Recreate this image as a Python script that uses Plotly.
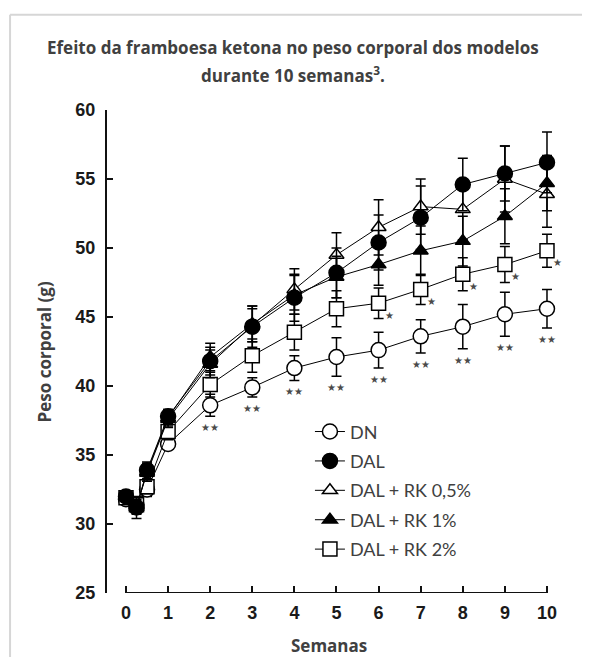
import plotly.graph_objects as go

weeks = [0, 0.25, 0.5, 1, 2, 3, 4, 5, 6, 7, 8, 9, 10]
x_ticks = [0, 1, 2, 3, 4, 5, 6, 7, 8, 9, 10]
y_ticks = [25, 30, 35, 40, 45, 50, 55, 60]

dn = [31.8, 31.4, 32.5, 35.8, 38.6, 39.9, 41.3, 42.1, 42.6, 43.6, 44.3, 45.2, 45.6]
dn_err = [0.3, 0.4, 0.5, 0.4, 0.8, 0.7, 0.9, 1.4, 1.3, 1.2, 1.6, 1.6, 1.4]
dal = [32.0, 31.2, 33.9, 37.8, 41.8, 44.3, 46.4, 48.2, 50.4, 52.2, 54.6, 55.4, 56.2]
dal_err = [0.4, 0.8, 0.6, 0.5, 1.0, 1.5, 1.7, 1.8, 2.0, 2.3, 1.9, 2.0, 2.2]
rk05 = [32.0, 31.3, 33.7, 37.6, 41.6, 44.4, 47.0, 49.5, 51.5, 53.0, 52.8, 55.0, 53.9]
rk05_err = [0.4, 0.5, 0.6, 0.6, 1.0, 1.2, 1.5, 1.6, 2.0, 2.0, 2.2, 2.4, 2.4]
rk1 = [32.0, 31.2, 33.8, 37.7, 42.1, 44.5, 46.6, 47.9, 48.8, 49.8, 50.5, 52.3, 54.7]
rk1_err = [0.4, 0.5, 0.6, 0.6, 1.0, 1.3, 1.4, 1.5, 1.5, 1.8, 1.8, 2.0, 2.0]
rk2 = [31.9, 31.4, 32.7, 36.7, 40.1, 42.2, 43.9, 45.6, 46.0, 47.0, 48.1, 48.8, 49.8]
rk2_err = [0.3, 0.4, 0.5, 0.6, 0.9, 1.2, 1.3, 1.3, 1.1, 1.1, 1.2, 1.3, 1.2]

# significance marks: indices into weeks
dn_sig_idx = [4, 5, 6, 7, 8, 9, 10, 11, 12]
rk2_sig_idx = [8, 9, 10, 11, 12]

names = ["DN", "DAL", "DAL + RK 0,5%", "DAL + RK 1%", "DAL + RK 2%"]

series = [
    (names[0], dn, dn_err, "circle", "white", 15),
    (names[4], rk2, rk2_err, "square", "white", 14),
    (names[2], rk05, rk05_err, "triangle-up", "white", 13),
    (names[3], rk1, rk1_err, "triangle-up", "black", 13),
    (names[1], dal, dal_err, "circle", "black", 15),
]
legend_rank = {n: i for i, n in enumerate(names)}

fig = go.Figure()
for name, vals, err, sym, fill, size in series:
    fig.add_trace(go.Scatter(
        x=weeks, y=vals, name=name, mode="lines+markers",
        line=dict(color="black", width=1),
        marker=dict(symbol=sym, size=size, color=fill,
                    line=dict(color="black", width=1.5)),
        error_y=dict(type="data", array=err, visible=True,
                     color="black", thickness=1.5, width=5),
        legendgroup=name, legendrank=legend_rank[name],
        cliponaxis=False,
    ))

star_font = dict(family="DejaVu Sans", size=10, color="#4a4a4a")
for i in dn_sig_idx:
    fig.add_annotation(x=weeks[i], y=dn[i] - dn_err[i], text="★★",
                       showarrow=False, yanchor="top", yshift=-4,
                       font=star_font)
for i in rk2_sig_idx:
    fig.add_annotation(x=weeks[i], y=rk2[i], text="★",
                       showarrow=False, xshift=11, yshift=-12,
                       font=star_font)

title_font = dict(family="Open Sans", size=17, color="#404040")
fig.add_annotation(xref="paper", yref="paper", x=0.41, y=1.129,
                   text="<b>Efeito da framboesa ketona no peso corporal dos modelos</b>",
                   showarrow=False, font=title_font, xanchor="center", yanchor="middle")
fig.add_annotation(xref="paper", yref="paper", x=0.41, y=1.073,
                   text="<b>durante 10 semanas<sup>3</sup>.</b>",
                   showarrow=False, font=title_font, xanchor="center", yanchor="middle")
fig.add_annotation(xref="paper", yref="paper", x=-0.137, y=0.5,
                   text="<b>Peso corporal (g)</b>", textangle=-90,
                   showarrow=False, font=title_font, xanchor="center", yanchor="middle")
fig.add_annotation(xref="paper", yref="paper", x=0.49, y=-0.108,
                   text="<b>Semanas</b>",
                   showarrow=False, font=title_font, xanchor="center", yanchor="middle")

# x axis baseline spanning the tick range
fig.add_shape(type="line", xref="x", yref="y", x0=x_ticks[0], x1=x_ticks[-1],
              y0=y_ticks[0], y1=y_ticks[0], line=dict(color="#111111", width=2))
# page frame
fig.add_shape(type="line", xref="paper", yref="paper", x0=-0.214, x1=1.1,
              y0=1.197, y1=1.197, line=dict(color="#d6d6d6", width=2))
fig.add_shape(type="line", xref="paper", yref="paper", x0=-0.214, x1=-0.214,
              y0=1.197, y1=-0.2, line=dict(color="#d6d6d6", width=2))

tick_font = dict(family="Liberation Sans", size=18, color="#1a1a1a")
fig.update_layout(
    width=582, height=649,
    margin=dict(l=99, r=30, t=102, b=64),
    paper_bgcolor="white", plot_bgcolor="white",
    showlegend=True,
    legend=dict(x=0.448, y=0.372, xanchor="left", yanchor="top",
                font=dict(family="Lato", size=18, color="#404040"),
                bgcolor="rgba(0,0,0,0)", traceorder="grouped",
                tracegroupgap=3, itemwidth=30),
    xaxis=dict(range=[-0.451, 10.309], tickvals=x_ticks,
               ticktext=[f"<b>{t}</b>" for t in x_ticks],
               ticks="inside", ticklen=7, tickwidth=2, tickcolor="#111111",
               showline=False, showgrid=False, zeroline=False,
               tickfont=tick_font, ticklabelstandoff=7),
    yaxis=dict(range=[25, 60], tickvals=y_ticks,
               ticktext=[f"<b>{t}</b>" for t in y_ticks],
               ticks="inside", ticklen=6, tickwidth=2, tickcolor="#111111",
               showline=True, linecolor="#111111", linewidth=2,
               showgrid=False, zeroline=False,
               tickfont=tick_font, ticklabelstandoff=6),
)

fig.write_html("out.html", config={"displayModeBar": False})
